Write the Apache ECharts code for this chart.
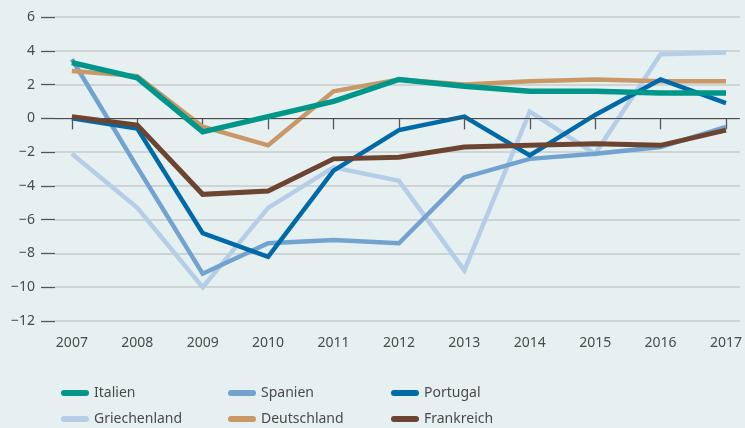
<!DOCTYPE html>
<html>
<head>
<meta charset="utf-8">
<script src="https://cdn.jsdelivr.net/npm/echarts@6/dist/echarts.min.js"></script>
<style>
html, body { margin: 0; padding: 0; background: #e7f0f1; }
#chart { width: 745px; height: 428px; }
</style>
</head>
<body>
<div id="chart"></div>
<script>
var years = [2007, 2008, 2009, 2010, 2011, 2012, 2013, 2014, 2015, 2016, 2017];
var yTicks = [-12, -10, -8, -6, -4, -2, 0, 2, 4, 6];

var italien      = [3.3, 2.4, -0.8, 0.1, 1.0, 2.3, 1.9, 1.6, 1.6, 1.5, 1.5];
var spanien      = [3.5, -2.9, -9.2, -7.4, -7.2, -7.4, -3.5, -2.4, -2.1, -1.7, -0.5];
var portugal     = [0.0, -0.6, -6.8, -8.2, -3.1, -0.7, 0.1, -2.2, 0.2, 2.3, 0.9];
var griechenland = [-2.1, -5.3, -10.0, -5.3, -2.9, -3.7, -9.0, 0.4, -2.1, 3.8, 3.9];
var deutschland  = [2.8, 2.5, -0.5, -1.6, 1.6, 2.3, 2.0, 2.2, 2.3, 2.2, 2.2];
var frankreich   = [0.1, -0.4, -4.5, -4.3, -2.4, -2.3, -1.7, -1.6, -1.5, -1.6, -0.7];

var chart = echarts.init(document.getElementById('chart'));

var font = 'Noto Sans';
var textColor = '#4a4a4a';

function pairs(arr) {
    return arr.map(function (v, i) { return [years[i], v]; });
}

// name, data, colour, width, draw order
var lines = [
    ['Griechenland', griechenland, '#b5cde6', 4.5, 1],
    ['Spanien', spanien, '#72a2d0', 4.5, 2],
    ['Deutschland', deutschland, '#c99867', 4.5, 3],
    ['Portugal', portugal, '#006aa9', 4.5, 4],
    ['Frankreich', frankreich, '#6c4432', 5, 5],
    ['Italien', italien, '#00968a', 5.5, 6]
];

var series = lines.map(function (l) {
    return {
        name: l[0],
        type: 'line',
        data: pairs(l[1]),
        showSymbol: false,
        symbol: 'none',
        z: l[4],
        lineStyle: { color: l[2], width: l[3], join: 'miter' },
        itemStyle: { color: l[2] },
        animation: false
    };
});

// dark zero line
series[0].markLine = {
    silent: true,
    symbol: 'none',
    label: { show: false },
    lineStyle: { color: '#4a4a4a', width: 1.2, type: 'solid' },
    data: [{ yAxis: 0 }],
    animation: false
};

var pill = 'path://M3,0 L25,0 A3,3 0 0 1 25,6 L3,6 A3,3 0 0 1 3,0 Z';

// legend laid out as 3 columns x 2 rows
var legendPos = [
    ['Italien', 56, 381],
    ['Spanien', 223, 381],
    ['Portugal', 386, 381],
    ['Griechenland', 56, 407],
    ['Deutschland', 223, 407],
    ['Frankreich', 386, 407]
];
var legends = legendPos.map(function (p) {
    return {
        data: [p[0]],
        left: p[1],
        top: p[2],
        icon: pill,
        itemWidth: 28,
        itemHeight: 6,
        selectedMode: false,
        textStyle: { fontFamily: font, fontSize: 14, color: textColor }
    };
});

chart.setOption({
    backgroundColor: '#e7f0f1',
    animation: false,
    legend: legends,
    grid: { left: 55, right: 0, top: 17, bottom: 107 },
    xAxis: {
        type: 'value',
        min: 2006.742,
        max: 2017.212,
        axisLine: { show: false },
        splitLine: { show: false },
        axisTick: {
            show: true,
            customValues: years,
            length: 11,
            lineStyle: { color: '#555', width: 1.3 }
        },
        axisLabel: {
            customValues: years,
            margin: 15,
            fontFamily: font,
            fontSize: 14,
            color: textColor,
            formatter: function (v) { return String(v); }
        }
    },
    yAxis: {
        type: 'value',
        min: -12,
        max: 6,
        interval: 2,
        axisLine: { show: false },
        axisTick: {
            show: true,
            length: 14,
            lineStyle: { color: '#555', width: 1.3 }
        },
        axisLabel: {
            margin: 20,
            fontFamily: font,
            fontSize: 14,
            color: textColor,
            formatter: function (v) { return String(v).replace('-', '\u2212'); }
        },
        splitLine: { lineStyle: { color: '#c6cbcc', width: 1.5 } }
    },
    series: series
});
</script>
</body>
</html>
